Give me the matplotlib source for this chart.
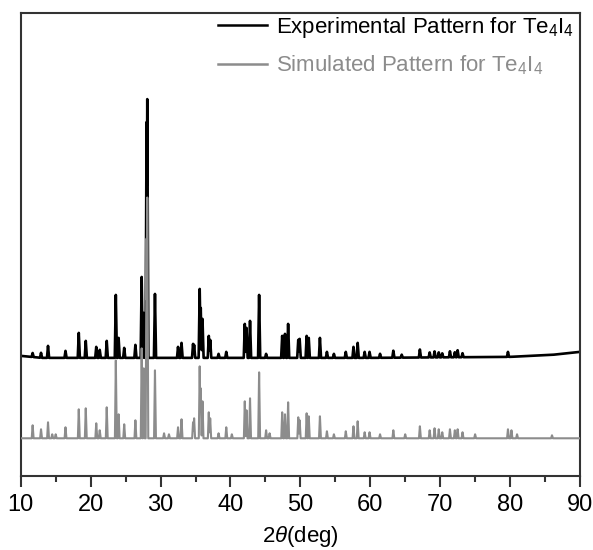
import numpy as np
import matplotlib
matplotlib.use("Agg")
import matplotlib.pyplot as plt
from matplotlib.ticker import MultipleLocator

plt.rcParams['font.family'] = ['Liberation Sans', 'DejaVu Sans']
plt.rcParams['mathtext.fontset'] = 'custom'
plt.rcParams['mathtext.rm'] = 'Liberation Sans'
plt.rcParams['mathtext.it'] = 'Liberation Sans:italic'

# ---- data (intensities in arbitrary units) ----
exp_label = "Experimental Pattern for Te$_4$I$_4$"
sim_label = "Simulated Pattern for Te$_4$I$_4$"

exp_pos = [11.7, 12.9, 13.9, 16.4, 18.3, 19.3, 20.8, 21.3, 22.3, 23.6, 24.0, 24.8,
           26.4, 27.3, 27.6, 28.0, 28.1, 29.2, 32.5, 33.0, 34.65, 34.8, 35.6, 35.75,
           36.0, 36.9, 37.1, 38.3, 39.4, 42.05, 42.3, 42.8, 44.1, 45.1, 47.4, 47.8,
           48.25, 49.7, 49.9, 50.9, 51.2, 52.8, 53.8, 54.8, 56.5, 57.6, 58.2, 59.2,
           59.9, 61.4, 63.3, 64.5, 67.1, 68.5, 69.2, 69.8, 70.3, 71.4, 72.1, 72.5,
           73.2, 79.7]
exp_int = [4, 5, 12, 7, 25, 17, 11, 8, 17, 63, 20, 10,
           13, 81, 45, 236, 259, 64, 11, 15, 14, 13, 69, 50,
           39, 22, 18, 4, 6, 34, 30, 37, 63, 4, 22, 24,
           34, 18, 19, 22, 20, 20, 6, 4, 6, 11, 15, 6,
           6, 4, 7, 3, 8, 5, 6, 5, 4, 6, 5, 7,
           4, 5]
exp_base_x = [10, 13, 30, 60, 80, 86, 90]
exp_base_y = [120, 118, 118, 118, 119, 121, 124]

sim_pos = [11.7, 12.9, 13.9, 14.5, 15.0, 16.4, 18.3, 19.3, 20.8, 21.3, 22.3, 23.6,
           24.0, 24.8, 26.4, 27.3, 27.6, 28.0, 28.1, 29.2, 30.5, 31.2, 32.5, 33.0,
           34.65, 34.8, 35.6, 35.75, 36.0, 36.9, 37.1, 38.3, 39.4, 40.2, 42.05, 42.3,
           42.8, 44.1, 45.1, 45.6, 47.4, 47.8, 48.25, 49.7, 49.9, 50.9, 51.2, 52.8,
           53.8, 54.8, 56.5, 57.6, 58.2, 59.2, 59.9, 61.4, 63.3, 65.0, 67.1, 68.5,
           69.2, 69.8, 70.3, 71.4, 72.1, 72.5, 73.2, 75.0, 79.7, 80.2, 81.0, 86.0]
sim_int = [13, 9, 16, 4, 4, 11, 29, 30, 15, 8, 31, 78,
           24, 14, 18, 90, 70, 200, 241, 68, 5, 4, 11, 19,
           16, 20, 72, 50, 37, 26, 20, 5, 11, 4, 37, 28,
           40, 66, 8, 5, 26, 24, 36, 21, 18, 25, 22, 22,
           7, 4, 7, 12, 17, 6, 6, 4, 8, 4, 12, 8,
           10, 9, 6, 9, 8, 9, 6, 4, 9, 8, 4, 3]
sim_base = 37.5

# ---- build profiles (each peak as a narrow triangle, overlapping peaks by max) ----
x = np.arange(10, 90.0001, 0.01)

def profile(pos, inten, hw):
    y = np.zeros_like(x)
    for p, h in zip(pos, inten):
        y = np.maximum(y, np.interp(x, [p - hw, p, p + hw], [0, h, 0], left=0, right=0))
    return y

y_exp = np.interp(x, exp_base_x, exp_base_y) + profile(exp_pos, exp_int, 0.15)
y_sim = sim_base + profile(sim_pos, sim_int, 0.13)

fig = plt.figure(figsize=(5.93, 5.5), dpi=100)
ax = fig.add_axes([0.035, 0.135, 0.943, 0.841])

ax.plot(x, y_exp, color='black', lw=1.9, label=exp_label, zorder=2)
ax.plot(x, y_sim, color='#8c8c8c', lw=1.5, label=sim_label, zorder=3)

ax.set_xlim(10, 90)
ax.set_ylim(0, 463)
ax.set_yticks([])
ax.xaxis.set_major_locator(MultipleLocator(10))
ax.xaxis.set_minor_locator(MultipleLocator(5))
ax.tick_params(axis='x', which='major', direction='out', length=8, width=1.5,
               labelsize=17, color='#333333', pad=5)
ax.tick_params(axis='x', which='minor', direction='out', length=4.5, width=1.5,
               color='#333333')
for s in ax.spines.values():
    s.set_linewidth(1.5)
    s.set_color('#333333')

ax.set_xlabel(r'2$\it{\theta}$(deg)', fontsize=16, labelpad=6)

leg = ax.legend(loc='upper right', frameon=False, fontsize=16, handlelength=2.2,
                handletextpad=0.4, borderaxespad=0.0, labelspacing=0.6,
                bbox_to_anchor=(1.005, 1.015))
for t, c in zip(leg.get_texts(), ['black', '#8c8c8c']):
    t.set_color(c)
for h in leg.get_lines():
    h.set_linewidth(1.8)

fig.savefig('out.png', dpi=100, facecolor='white')
